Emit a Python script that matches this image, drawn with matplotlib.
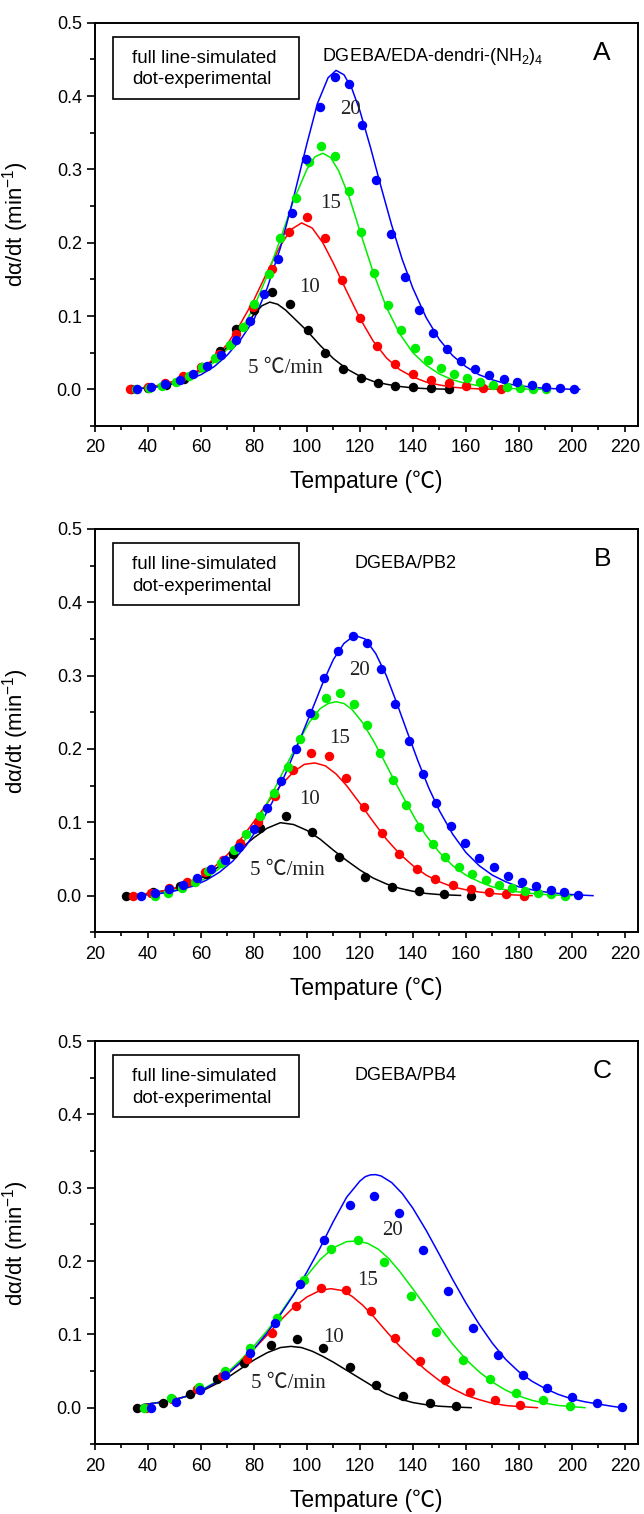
import matplotlib
matplotlib.use("Agg")
import matplotlib.pyplot as plt
from matplotlib.patches import Rectangle
from matplotlib.ticker import MultipleLocator

plt.rcParams['font.family'] = ['Liberation Sans', 'Noto Sans CJK SC']
plt.rcParams['mathtext.fontset'] = 'custom'
plt.rcParams['mathtext.rm'] = 'Liberation Sans'
plt.rcParams['mathtext.it'] = 'Liberation Sans:italic'

rates = [5, 10, 15, 20]
colors = ['#000000', '#ff0000', '#00ee00', '#0000ff']

# ---- panel A: DGEBA/EDA-dendri-(NH2)4 ----
a_exp_t5 = [33.5, 40.2, 46.9, 53.6, 60.3, 67.2, 73.1, 80.0, 86.9, 93.7, 100.4, 106.8, 113.5, 120.3, 127.0, 133.4, 140.0, 146.7, 153.5]
a_exp_r5 = [0.0, 0.002, 0.006, 0.014, 0.030, 0.0527, 0.0818, 0.108, 0.1332, 0.117, 0.0814, 0.050, 0.0282, 0.015, 0.0082, 0.0045, 0.0027, 0.0014, 0.0005]
a_exp_t10 = [33.3, 39.9, 46.6, 53.3, 60.1, 66.8, 73.1, 79.8, 86.7, 93.4, 100.0, 106.7, 113.4, 120.1, 126.6, 133.3, 140.0, 146.7, 153.5, 159.9, 166.6, 173.2]
a_exp_r10 = [0.0, 0.0027, 0.009, 0.018, 0.030, 0.0486, 0.076, 0.112, 0.1636, 0.214, 0.235, 0.206, 0.1495, 0.0973, 0.0595, 0.0345, 0.0205, 0.0127, 0.0082, 0.0045, 0.0023, 0.0005]
a_exp_t15 = [35.4, 40.4, 45.4, 50.4, 55.4, 60.4, 65.4, 70.8, 75.9, 80.2, 85.6, 89.9, 95.7, 100.9, 105.5, 110.6, 115.8, 120.5, 125.5, 130.5, 135.6, 140.7, 145.7, 150.6, 155.5, 160.5, 165.4, 170.4, 175.4, 180.5, 185.3, 190.4]
a_exp_r15 = [0.0, 0.002, 0.005, 0.010, 0.018, 0.030, 0.043, 0.061, 0.0845, 0.116, 0.158, 0.207, 0.261, 0.310, 0.3325, 0.318, 0.271, 0.2145, 0.159, 0.115, 0.081, 0.056, 0.0395, 0.029, 0.0214, 0.015, 0.0105, 0.0064, 0.0036, 0.0023, 0.0005, 0.0]
a_exp_t20 = [35.9, 41.2, 46.6, 52.0, 57.1, 62.3, 67.7, 73.1, 78.5, 83.7, 89.1, 94.3, 99.8, 105.1, 110.5, 115.8, 120.9, 126.2, 131.6, 136.9, 142.3, 147.7, 152.8, 158.2, 163.5, 168.9, 174.3, 179.4, 184.8, 190.2, 195.5, 200.9]
a_exp_r20 = [0.0, 0.003, 0.0077, 0.013, 0.021, 0.032, 0.047, 0.067, 0.093, 0.1295, 0.178, 0.241, 0.3142, 0.3851, 0.4261, 0.4160, 0.3610, 0.286, 0.212, 0.153, 0.1086, 0.0768, 0.0545, 0.0386, 0.0273, 0.019, 0.0136, 0.010, 0.0064, 0.0036, 0.0018, 0.0005]

a_sim_t5 = [35, 40, 45, 50, 55, 60, 65, 70, 75, 80, 83, 86, 89, 92, 96, 100, 105, 110, 115, 120, 125, 130, 135, 140, 145, 150, 155]
a_sim_r5 = [0.001, 0.003, 0.006, 0.011, 0.018, 0.027, 0.040, 0.058, 0.080, 0.102, 0.114, 0.119, 0.116, 0.108, 0.094, 0.080, 0.060, 0.042, 0.028, 0.018, 0.011, 0.007, 0.004, 0.002, 0.001, 0.0005, 0.0]
a_sim_t10 = [35, 40, 45, 50, 55, 60, 65, 70, 75, 80, 85, 90, 94, 98, 102, 106, 110, 115, 120, 125, 130, 135, 140, 145, 150, 155, 160, 165, 170, 175]
a_sim_r10 = [0.001, 0.003, 0.006, 0.011, 0.018, 0.028, 0.042, 0.062, 0.090, 0.122, 0.160, 0.196, 0.218, 0.227, 0.220, 0.200, 0.172, 0.134, 0.097, 0.066, 0.043, 0.027, 0.017, 0.010, 0.006, 0.003, 0.0015, 0.0007, 0.0003, 0.0]
a_sim_t15 = [35, 40, 45, 50, 55, 60, 65, 70, 75, 80, 85, 90, 95, 100, 103, 106, 109, 112, 116, 120, 125, 130, 135, 140, 145, 150, 155, 160, 165, 170, 175, 180, 185, 190]
a_sim_r15 = [0.001, 0.002, 0.005, 0.009, 0.015, 0.024, 0.037, 0.055, 0.080, 0.112, 0.155, 0.205, 0.258, 0.300, 0.317, 0.322, 0.316, 0.298, 0.262, 0.216, 0.160, 0.112, 0.076, 0.050, 0.033, 0.021, 0.013, 0.008, 0.005, 0.003, 0.0015, 0.0007, 0.0003, 0.0]
a_sim_t20 = [35, 40, 45, 50, 55, 60, 65, 70, 75, 80, 85, 90, 95, 100, 104, 108, 111, 114, 117, 120, 124, 128, 132, 136, 140, 145, 150, 155, 160, 165, 170, 175, 180, 185, 190, 195, 200, 203]
a_sim_r20 = [0.0005, 0.002, 0.004, 0.008, 0.013, 0.020, 0.031, 0.047, 0.068, 0.095, 0.138, 0.193, 0.262, 0.335, 0.390, 0.425, 0.435, 0.429, 0.410, 0.380, 0.330, 0.276, 0.224, 0.177, 0.138, 0.098, 0.068, 0.046, 0.031, 0.020, 0.013, 0.008, 0.005, 0.003, 0.0015, 0.0007, 0.0002, 0.0]

# ---- panel B: DGEBA/PB2 ----
b_exp_t5 = [31.8, 42.0, 52.0, 62.0, 72.2, 82.3, 92.1, 102.1, 112.3, 122.0, 132.1, 142.2, 151.9, 162.0]
b_exp_r5 = [0.0, 0.005, 0.013, 0.029, 0.057, 0.092, 0.1086, 0.087, 0.053, 0.026, 0.0123, 0.0059, 0.0018, 0.0]
b_exp_t10 = [34.5, 41.2, 47.9, 54.7, 61.5, 68.2, 74.9, 81.4, 88.1, 94.8, 101.6, 108.3, 114.8, 121.5, 128.2, 134.8, 141.5, 148.4, 155.1, 161.9, 168.6, 175.3, 182.0]
b_exp_r10 = [0.0, 0.004, 0.010, 0.018, 0.0327, 0.0486, 0.072, 0.101, 0.136, 0.172, 0.195, 0.1905, 0.161, 0.121, 0.085, 0.057, 0.037, 0.023, 0.0145, 0.0086, 0.0055, 0.0018, 0.0]
b_exp_t15 = [42.6, 47.7, 52.7, 57.7, 62.8, 67.6, 72.5, 77.1, 82.3, 87.7, 92.7, 97.5, 102.5, 107.2, 112.6, 117.7, 122.6, 127.7, 132.5, 137.5, 142.2, 147.6, 152.3, 157.3, 162.4, 167.5, 172.5, 177.5, 182.3, 187.3, 192.3, 197.4]
b_exp_r15 = [0.0, 0.003, 0.010, 0.019, 0.033, 0.044, 0.062, 0.084, 0.109, 0.140, 0.176, 0.213, 0.247, 0.270, 0.277, 0.262, 0.233, 0.195, 0.158, 0.123, 0.094, 0.070, 0.053, 0.0386, 0.0295, 0.021, 0.0145, 0.010, 0.0064, 0.0032, 0.0018, 0.0]
b_exp_t20 = [37.2, 42.6, 48.0, 53.1, 58.5, 63.9, 69.1, 74.5, 79.9, 85.0, 90.4, 95.8, 101.2, 106.5, 111.9, 117.3, 122.6, 127.9, 133.3, 138.6, 143.8, 148.9, 154.3, 159.7, 165.1, 170.5, 175.9, 181.2, 186.6, 192.0, 197.1, 202.5]
b_exp_r20 = [0.0, 0.004, 0.009, 0.0145, 0.0245, 0.036, 0.049, 0.067, 0.091, 0.120, 0.157, 0.200, 0.2486, 0.297, 0.333, 0.354, 0.344, 0.309, 0.261, 0.211, 0.166, 0.127, 0.0955, 0.0714, 0.052, 0.0386, 0.027, 0.019, 0.013, 0.0077, 0.005, 0.0014]

b_sim_t5 = [32, 40, 45, 50, 55, 60, 65, 70, 75, 80, 85, 90, 95, 100, 105, 110, 115, 120, 125, 130, 135, 140, 145, 150, 155, 158]
b_sim_r5 = [0.0005, 0.003, 0.006, 0.010, 0.016, 0.024, 0.035, 0.049, 0.064, 0.079, 0.092, 0.0995, 0.097, 0.089, 0.077, 0.062, 0.048, 0.035, 0.024, 0.016, 0.010, 0.006, 0.003, 0.0015, 0.0007, 0.0003]
b_sim_t10 = [35, 40, 45, 50, 55, 60, 65, 70, 75, 80, 85, 90, 95, 99, 103, 107, 111, 115, 120, 125, 130, 135, 140, 145, 150, 155, 160, 165, 170, 175, 180, 185]
b_sim_r10 = [0.0005, 0.003, 0.006, 0.010, 0.017, 0.026, 0.039, 0.056, 0.077, 0.101, 0.126, 0.150, 0.169, 0.179, 0.181, 0.177, 0.166, 0.150, 0.126, 0.101, 0.077, 0.057, 0.041, 0.028, 0.019, 0.012, 0.008, 0.005, 0.003, 0.0015, 0.0007, 0.0]
b_sim_t15 = [38, 42, 47, 52, 57, 62, 67, 72, 77, 82, 87, 92, 97, 101, 105, 108, 111, 114, 117, 121, 125, 129, 133, 137, 141, 145, 150, 155, 160, 165, 170, 175, 180, 185, 190, 195, 200]
b_sim_r15 = [0.0005, 0.002, 0.005, 0.009, 0.015, 0.024, 0.037, 0.055, 0.078, 0.106, 0.140, 0.176, 0.211, 0.237, 0.255, 0.262, 0.2645, 0.262, 0.254, 0.236, 0.212, 0.185, 0.157, 0.130, 0.104, 0.082, 0.059, 0.041, 0.028, 0.019, 0.012, 0.008, 0.005, 0.003, 0.0015, 0.0007, 0.0002]
b_sim_t20 = [37, 42, 47, 52, 57, 62, 67, 72, 77, 82, 87, 92, 97, 102, 106, 110, 114, 118, 122, 126, 130, 134, 138, 142, 146, 150, 155, 160, 165, 170, 175, 180, 185, 190, 195, 200, 205, 208]
b_sim_r20 = [0.0005, 0.002, 0.004, 0.008, 0.013, 0.021, 0.032, 0.047, 0.068, 0.095, 0.128, 0.167, 0.210, 0.254, 0.290, 0.322, 0.344, 0.355, 0.350, 0.330, 0.300, 0.262, 0.222, 0.183, 0.147, 0.116, 0.084, 0.059, 0.041, 0.028, 0.019, 0.012, 0.008, 0.005, 0.003, 0.0015, 0.0005, 0.0]

# ---- panel C: DGEBA/PB4 ----
c_exp_t5 = [35.8, 45.8, 55.9, 66.1, 76.2, 86.4, 96.2, 106.2, 116.2, 126.2, 136.2, 146.4, 156.4]
c_exp_r5 = [0.0, 0.0064, 0.019, 0.0386, 0.061, 0.085, 0.094, 0.082, 0.056, 0.031, 0.016, 0.0068, 0.0018]
c_exp_t10 = [39.4, 48.9, 58.4, 67.8, 77.3, 86.8, 95.9, 105.4, 114.7, 124.2, 133.4, 142.8, 152.2, 161.6, 170.9, 180.4]
c_exp_r10 = [0.0, 0.012, 0.025, 0.043, 0.067, 0.102, 0.139, 0.163, 0.160, 0.132, 0.0955, 0.063, 0.038, 0.021, 0.0105, 0.0032]
c_exp_t15 = [38.5, 48.6, 59.1, 68.9, 78.6, 88.8, 98.9, 109.1, 119.2, 129.1, 139.2, 148.9, 159.1, 169.2, 178.9, 189.2, 199.2]
c_exp_r15 = [0.0, 0.013, 0.028, 0.0495, 0.082, 0.122, 0.1745, 0.217, 0.228, 0.1986, 0.152, 0.103, 0.0655, 0.0386, 0.0205, 0.010, 0.0018]
c_exp_t20 = [41.1, 50.5, 59.7, 69.2, 78.6, 87.8, 97.3, 106.5, 116.1, 125.3, 134.7, 143.9, 153.4, 162.7, 172.2, 181.4, 190.8, 200.0, 209.5, 218.8]
c_exp_r20 = [0.0, 0.008, 0.0236, 0.044, 0.075, 0.116, 0.168, 0.228, 0.277, 0.289, 0.265, 0.2155, 0.1586, 0.109, 0.072, 0.045, 0.027, 0.0145, 0.0068, 0.001]

c_sim_t5 = [38, 42, 46, 50, 55, 60, 65, 70, 75, 80, 85, 90, 94, 98, 102, 106, 110, 115, 120, 125, 130, 135, 140, 145, 150, 155, 160, 162]
c_sim_r5 = [0.004, 0.006, 0.008, 0.011, 0.016, 0.022, 0.031, 0.041, 0.053, 0.065, 0.075, 0.082, 0.0836, 0.082, 0.077, 0.070, 0.062, 0.051, 0.040, 0.029, 0.019, 0.012, 0.007, 0.004, 0.002, 0.001, 0.0003, 0.0]
c_sim_t10 = [38, 42, 46, 50, 55, 60, 65, 70, 75, 80, 85, 90, 95, 100, 105, 109, 113, 117, 121, 125, 130, 135, 140, 145, 150, 155, 160, 165, 170, 175, 180, 185, 187]
c_sim_r10 = [0.004, 0.006, 0.008, 0.011, 0.016, 0.023, 0.033, 0.046, 0.061, 0.080, 0.099, 0.119, 0.137, 0.151, 0.160, 0.1623, 0.160, 0.152, 0.140, 0.125, 0.104, 0.084, 0.067, 0.051, 0.037, 0.026, 0.017, 0.011, 0.006, 0.003, 0.0015, 0.0005, 0.0]
c_sim_t15 = [38, 42, 46, 50, 55, 60, 65, 70, 75, 80, 85, 90, 95, 100, 105, 110, 115, 119, 123, 127, 131, 135, 140, 145, 150, 155, 160, 165, 170, 175, 180, 185, 190, 195, 200, 205]
c_sim_r15 = [0.004, 0.006, 0.008, 0.011, 0.016, 0.024, 0.034, 0.048, 0.065, 0.084, 0.105, 0.129, 0.155, 0.180, 0.202, 0.218, 0.2265, 0.2273, 0.224, 0.216, 0.203, 0.186, 0.162, 0.137, 0.111, 0.087, 0.066, 0.049, 0.035, 0.024, 0.016, 0.010, 0.006, 0.003, 0.0015, 0.0]
c_sim_t20 = [38, 42, 46, 50, 55, 60, 65, 70, 75, 80, 85, 90, 95, 100, 105, 110, 115, 120, 122, 124, 126, 128, 132, 136, 140, 145, 150, 155, 160, 165, 170, 175, 180, 185, 190, 195, 200, 205, 210, 215, 219]
c_sim_r20 = [0.004, 0.006, 0.008, 0.011, 0.016, 0.023, 0.033, 0.046, 0.062, 0.080, 0.102, 0.127, 0.154, 0.185, 0.218, 0.254, 0.287, 0.309, 0.315, 0.3175, 0.3178, 0.316, 0.307, 0.292, 0.272, 0.242, 0.209, 0.175, 0.143, 0.114, 0.088, 0.066, 0.049, 0.036, 0.026, 0.018, 0.012, 0.008, 0.005, 0.002, 0.0]

titles = [r'DGEBA/EDA-dendri-(NH$_2$)$_4$', 'DGEBA/PB2', 'DGEBA/PB4']
panel_letters = ['A', 'B', 'C']
rate_labels = ['5 ℃/min', '10', '15', '20']
# where each rate label sits, (temperature, rate) per panel
a_label_pos = [(91.8, 0.028), (101.0, 0.139), (109.1, 0.253), (116.4, 0.381)]
b_label_pos = [(92.7, 0.034), (100.9, 0.131), (112.3, 0.2145), (120.0, 0.307)]
c_label_pos = [(93.0, 0.033), (110.1, 0.0955), (123.0, 0.173), (132.4, 0.241)]

panels = [
    dict(exp=[(a_exp_t5, a_exp_r5), (a_exp_t10, a_exp_r10), (a_exp_t15, a_exp_r15), (a_exp_t20, a_exp_r20)],
         sim=[(a_sim_t5, a_sim_r5), (a_sim_t10, a_sim_r10), (a_sim_t15, a_sim_r15), (a_sim_t20, a_sim_r20)],
         labels=a_label_pos, title_x=0.418),
    dict(exp=[(b_exp_t5, b_exp_r5), (b_exp_t10, b_exp_r10), (b_exp_t15, b_exp_r15), (b_exp_t20, b_exp_r20)],
         sim=[(b_sim_t5, b_sim_r5), (b_sim_t10, b_sim_r10), (b_sim_t15, b_sim_r15), (b_sim_t20, b_sim_r20)],
         labels=b_label_pos, title_x=0.478),
    dict(exp=[(c_exp_t5, c_exp_r5), (c_exp_t10, c_exp_r10), (c_exp_t15, c_exp_r15), (c_exp_t20, c_exp_r20)],
         sim=[(c_sim_t5, c_sim_r5), (c_sim_t10, c_sim_r10), (c_sim_t15, c_sim_r15), (c_sim_t20, c_sim_r20)],
         labels=c_label_pos, title_x=0.478),
]

fig = plt.figure(figsize=(6.44, 15.14), dpi=100)
bottoms = [0.7186, 0.3842, 0.0460]

for i, panel in enumerate(panels):
    ax = fig.add_axes([0.1475, bottoms[i], 0.8432, 0.2664])

    for (t, r), c in zip(panel['sim'], colors):
        ax.plot(t, r, color=c, lw=1.1, zorder=2)
    for (t, r), c in zip(panel['exp'], colors):
        ax.plot(t, r, 'o', color=c, ms=6.8, mec='none', zorder=3)

    for (x, y), txt in zip(panel['labels'], rate_labels):
        ax.text(x, y, txt, ha='center', va='center', fontsize=15,
                family=['Liberation Serif', 'Noto Sans CJK SC'], color='#222222', zorder=4)

    # note box in the upper left corner
    ax.add_patch(Rectangle((0.033, 0.811), 0.343, 0.1535, transform=ax.transAxes,
                           fill=False, lw=1.2, ec='black', zorder=5))
    ax.text(0.068, 0.9125, 'full line-simulated', transform=ax.transAxes,
            ha='left', va='center', fontsize=13.5)
    ax.text(0.068, 0.858, 'dot-experimental', transform=ax.transAxes,
            ha='left', va='center', fontsize=13.5)

    ax.text(panel['title_x'], 0.915, titles[i], transform=ax.transAxes,
            ha='left', va='center', fontsize=13)
    ax.text(0.934, 0.925, panel_letters[i], transform=ax.transAxes,
            ha='center', va='center', fontsize=19)

    ax.set_xlim(20, 225)
    ax.set_ylim(-0.05, 0.5)
    ax.xaxis.set_major_locator(MultipleLocator(20))
    ax.xaxis.set_minor_locator(MultipleLocator(10))
    ax.yaxis.set_major_locator(MultipleLocator(0.1))
    ax.yaxis.set_minor_locator(MultipleLocator(0.05))
    ax.yaxis.set_major_formatter(plt.FormatStrFormatter('%.1f'))

    ax.tick_params(top=False, right=False, direction='out', labelsize=13)
    ax.xaxis.set_tick_params(which='major', length=4.5, width=1.2, pad=5)
    ax.xaxis.set_tick_params(which='minor', length=2.8, width=1.2)
    ax.yaxis.set_tick_params(which='major', length=6, width=1.2, pad=3.5)
    ax.yaxis.set_tick_params(which='minor', length=3.6, width=1.2)
    for s in ax.spines.values():
        s.set_linewidth(1.4)

    ax.set_xlabel('Tempature (℃)', fontsize=16.5)
    ax.xaxis.set_label_coords(0.5, -0.11)
    ax.set_ylabel('dα/dt (min$^{-1}$)', fontsize=16)
    ax.yaxis.set_label_coords(-0.118, 0.5)

fig.savefig('out.png', dpi=100)
